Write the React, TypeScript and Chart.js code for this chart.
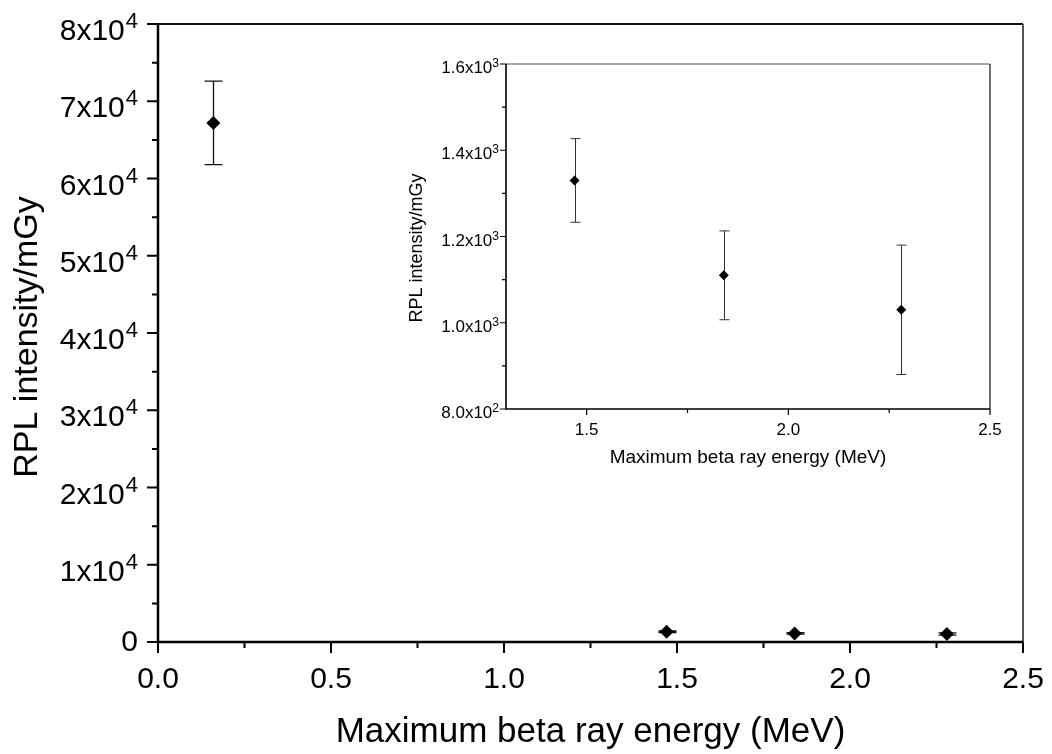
import React, { useEffect, useRef } from "react";
import { Chart, registerables } from "chart.js";

Chart.register(...registerables);

// ---------- data ----------
const mainEnergy = [0.16, 1.47, 1.84, 2.28];
const mainIntensity = [67200, 1330, 1110, 1030];
const mainError = [5400, 97, 103, 150];

const insetEnergy = [1.47, 1.84, 2.28];
const insetIntensity = [1330, 1110, 1030];
const insetError = [97, 103, 150];

const mainXTicks = [0, 0.5, 1.0, 1.5, 2.0, 2.5];
const mainXTickLabels = ["0.0", "0.5", "1.0", "1.5", "2.0", "2.5"];
const mainXMinorTicks = [0.25, 0.75, 1.25, 1.75, 2.25];
const mainYTicks = [0, 10000, 20000, 30000, 40000, 50000, 60000, 70000, 80000];
const mainYTickLabels = ["0", "1x10^4", "2x10^4", "3x10^4", "4x10^4", "5x10^4", "6x10^4", "7x10^4", "8x10^4"];
const mainYMinorTicks = [5000, 15000, 25000, 35000, 45000, 55000, 65000, 75000];

const insetXTicks = [1.5, 2.0, 2.5];
const insetXTickLabels = ["1.5", "2.0", "2.5"];
const insetXMinorTicks = [1.75, 2.25];
const insetYTicks = [800, 1000, 1200, 1400, 1600];
const insetYTickLabels = ["8.0x10^2", "1.0x10^3", "1.2x10^3", "1.4x10^3", "1.6x10^3"];
const insetYMinorTicks = [900, 1100, 1300, 1500];

const xTitle = "Maximum beta ray energy (MeV)";
const yTitle = "RPL intensity/mGy";

const FONT = "'Liberation Sans', Arial, sans-serif";

type Style = {
  axisWidth: number;
  tickWidth: number;
  majorLen: number;
  minorLen: number;
  topColor: string;
  topWidth: number;
  rightColor: string;
  rightWidth: number;
  labelSize: number;
  supSize: number;
  supRaise: number;
  supGap: number;
  yLabelGap: number;
  yLabelBaseline: number;
  zeroBaseline: number;
  xLabelBaseline: number;
  xTitleSize: number;
  yTitleSize: number;
  xTitleBaseline: number;
  yTitleX: number;
  yTitleY: number;
  errWidth: number;
  errColor: string;
  capHalf: number;
};

function drawSupLabel(
  ctx: CanvasRenderingContext2D,
  text: string,
  x: number,
  baseline: number,
  align: "right" | "center",
  s: Style
) {
  const [base, sup] = text.split("^");
  ctx.font = `${s.labelSize}px ${FONT}`;
  const wb = ctx.measureText(base).width;
  let ws = 0;
  if (sup) {
    ctx.font = `${s.supSize}px ${FONT}`;
    ws = ctx.measureText(sup).width + s.supGap;
  }
  const total = wb + ws;
  const startX = align === "right" ? x - total : x - total / 2;
  ctx.textAlign = "left";
  ctx.textBaseline = "alphabetic";
  ctx.fillStyle = "#000";
  ctx.font = `${s.labelSize}px ${FONT}`;
  ctx.fillText(base, startX, baseline);
  if (sup) {
    ctx.font = `${s.supSize}px ${FONT}`;
    ctx.fillText(sup, startX + wb + s.supGap, baseline - s.supRaise);
  }
}

function makePlugin(
  s: Style,
  xs: number[],
  ys: number[],
  errs: number[],
  xTicks: number[],
  xLabels: string[],
  xMinor: number[],
  yTicks: number[],
  yLabels: string[],
  yMinor: number[]
) {
  return {
    id: "customAxes",
    beforeDatasetsDraw(chart: any) {
      const ctx = chart.ctx as CanvasRenderingContext2D;
      const xs_ = chart.scales.x;
      const ys_ = chart.scales.y;
      ctx.save();
      ctx.strokeStyle = s.errColor;
      ctx.lineWidth = s.errWidth;
      for (let i = 0; i < xs.length; i++) {
        const px = Math.round(xs_.getPixelForValue(xs[i])) + 0.5;
        const top = ys_.getPixelForValue(ys[i] + errs[i]);
        const bot = ys_.getPixelForValue(ys[i] - errs[i]);
        ctx.beginPath();
        ctx.moveTo(px, top);
        ctx.lineTo(px, bot);
        ctx.moveTo(px - s.capHalf, top);
        ctx.lineTo(px + s.capHalf, top);
        ctx.moveTo(px - s.capHalf, bot);
        ctx.lineTo(px + s.capHalf, bot);
        ctx.stroke();
      }
      ctx.restore();
    },
    afterDraw(chart: any) {
      const ctx = chart.ctx as CanvasRenderingContext2D;
      const a = chart.chartArea;
      const xs_ = chart.scales.x;
      const ys_ = chart.scales.y;
      ctx.save();
      // top & right frame
      ctx.strokeStyle = s.topColor;
      ctx.lineWidth = s.topWidth;
      ctx.beginPath();
      ctx.moveTo(a.left, a.top);
      ctx.lineTo(a.right, a.top);
      ctx.stroke();
      ctx.strokeStyle = s.rightColor;
      ctx.lineWidth = s.rightWidth;
      ctx.beginPath();
      ctx.moveTo(a.right, a.top);
      ctx.lineTo(a.right, a.bottom);
      ctx.stroke();
      // ticks
      ctx.strokeStyle = "#000";
      ctx.lineWidth = s.tickWidth;
      ctx.beginPath();
      xTicks.forEach((v) => {
        const px = xs_.getPixelForValue(v);
        ctx.moveTo(px, a.bottom);
        ctx.lineTo(px, a.bottom + s.majorLen);
      });
      xMinor.forEach((v) => {
        const px = xs_.getPixelForValue(v);
        ctx.moveTo(px, a.bottom);
        ctx.lineTo(px, a.bottom + s.minorLen);
      });
      yTicks.forEach((v) => {
        const py = ys_.getPixelForValue(v);
        ctx.moveTo(a.left, py);
        ctx.lineTo(a.left - s.majorLen, py);
      });
      yMinor.forEach((v) => {
        const py = ys_.getPixelForValue(v);
        ctx.moveTo(a.left, py);
        ctx.lineTo(a.left - s.minorLen, py);
      });
      ctx.stroke();
      // left & bottom axes
      ctx.lineWidth = s.axisWidth;
      ctx.beginPath();
      ctx.moveTo(a.left, a.top);
      ctx.lineTo(a.left, a.bottom);
      ctx.lineTo(a.right, a.bottom);
      ctx.stroke();
      // tick labels
      xTicks.forEach((v, i) => {
        drawSupLabel(ctx, xLabels[i], xs_.getPixelForValue(v), a.bottom + s.xLabelBaseline, "center", s);
      });
      yTicks.forEach((v, i) => {
        const lab = yLabels[i];
        const off = lab.includes("^") ? s.yLabelBaseline : s.zeroBaseline;
        drawSupLabel(ctx, lab, a.left - s.yLabelGap, ys_.getPixelForValue(v) + off, "right", s);
      });
      // titles
      ctx.fillStyle = "#000";
      ctx.font = `${s.xTitleSize}px ${FONT}`;
      ctx.textAlign = "center";
      ctx.textBaseline = "alphabetic";
      ctx.fillText(xTitle, (a.left + a.right) / 2, a.bottom + s.xTitleBaseline);
      ctx.font = `${s.yTitleSize}px ${FONT}`;
      ctx.translate(s.yTitleX, s.yTitleY);
      ctx.rotate(-Math.PI / 2);
      ctx.textBaseline = "middle";
      ctx.fillText(yTitle, 0, 0);
      ctx.restore();
    },
  };
}

const mainStyle: Style = {
  axisWidth: 2.5,
  tickWidth: 2,
  majorLen: 11,
  minorLen: 6,
  topColor: "#111",
  topWidth: 2,
  rightColor: "#555",
  rightWidth: 2,
  labelSize: 30,
  supSize: 22,
  supRaise: 12,
  supGap: 1,
  yLabelGap: 20,
  yLabelBaseline: 16,
  zeroBaseline: 9,
  xLabelBaseline: 46,
  xTitleSize: 35,
  yTitleSize: 34,
  xTitleBaseline: 100,
  yTitleX: 28,
  yTitleY: 337,
  errWidth: 1.3,
  errColor: "#111",
  capHalf: 9,
};

const insetStyle: Style = {
  axisWidth: 1.6,
  tickWidth: 1.2,
  majorLen: 6,
  minorLen: 4,
  topColor: "#888",
  topWidth: 1.6,
  rightColor: "#333",
  rightWidth: 1.4,
  labelSize: 17,
  supSize: 12,
  supRaise: 6,
  supGap: 0,
  yLabelGap: 7,
  yLabelBaseline: 9,
  zeroBaseline: 6,
  xLabelBaseline: 26,
  xTitleSize: 19,
  yTitleSize: 18,
  xTitleBaseline: 54,
  yTitleX: 37,
  yTitleY: 208,
  errWidth: 1,
  errColor: "#333",
  capHalf: 5,
};

function useScatter(
  ref: React.RefObject<HTMLCanvasElement | null>,
  xs: number[],
  ys: number[],
  xMin: number,
  xMax: number,
  yMin: number,
  yMax: number,
  padding: { left: number; right: number; top: number; bottom: number },
  radius: number,
  plugin: any
) {
  useEffect(() => {
    if (!ref.current) return;
    const chart = new Chart(ref.current, {
      type: "scatter",
      data: {
        datasets: [
          {
            data: xs.map((x, i) => ({ x, y: ys[i] })),
            pointStyle: "rectRot",
            pointRadius: radius,
            pointHoverRadius: radius,
            backgroundColor: "#000",
            borderColor: "#000",
            borderWidth: 0,
            showLine: false,
            clip: false as any,
          },
        ],
      },
      options: {
        animation: false,
        responsive: false,
        devicePixelRatio: 1,
        layout: { padding },
        events: [],
        scales: {
          x: { type: "linear", min: xMin, max: xMax, display: false },
          y: { type: "linear", min: yMin, max: yMax, display: false },
        },
        plugins: { legend: { display: false }, tooltip: { enabled: false } },
      },
      plugins: [plugin],
    });
    return () => chart.destroy();
  }, []);
}

export default function App() {
  const mainRef = useRef<HTMLCanvasElement>(null);
  const insetRef = useRef<HTMLCanvasElement>(null);

  useScatter(
    mainRef,
    mainEnergy,
    mainIntensity,
    0,
    2.5,
    0,
    80000,
    { left: 158, right: 29, top: 24, bottom: 112 },
    7,
    makePlugin(mainStyle, mainEnergy, mainIntensity, mainError, mainXTicks, mainXTickLabels, mainXMinorTicks, mainYTicks, mainYTickLabels, mainYMinorTicks)
  );
  useScatter(
    insetRef,
    insetEnergy,
    insetIntensity,
    1.3,
    2.5,
    800,
    1600,
    { left: 126, right: 50, top: 24, bottom: 71 },
    5,
    makePlugin(insetStyle, insetEnergy, insetIntensity, insetError, insetXTicks, insetXTickLabels, insetXMinorTicks, insetYTicks, insetYTickLabels, insetYMinorTicks)
  );

  return (
    <div style={{ position: "fixed", left: 0, top: 0, width: 1052, height: 754, background: "#fff" }}>
      <canvas ref={mainRef} width={1052} height={754} style={{ position: "absolute", left: 0, top: 0, width: 1052, height: 754 }} />
      <canvas ref={insetRef} width={660} height={440} style={{ position: "absolute", left: 380, top: 40, width: 660, height: 440 }} />
    </div>
  );
}
